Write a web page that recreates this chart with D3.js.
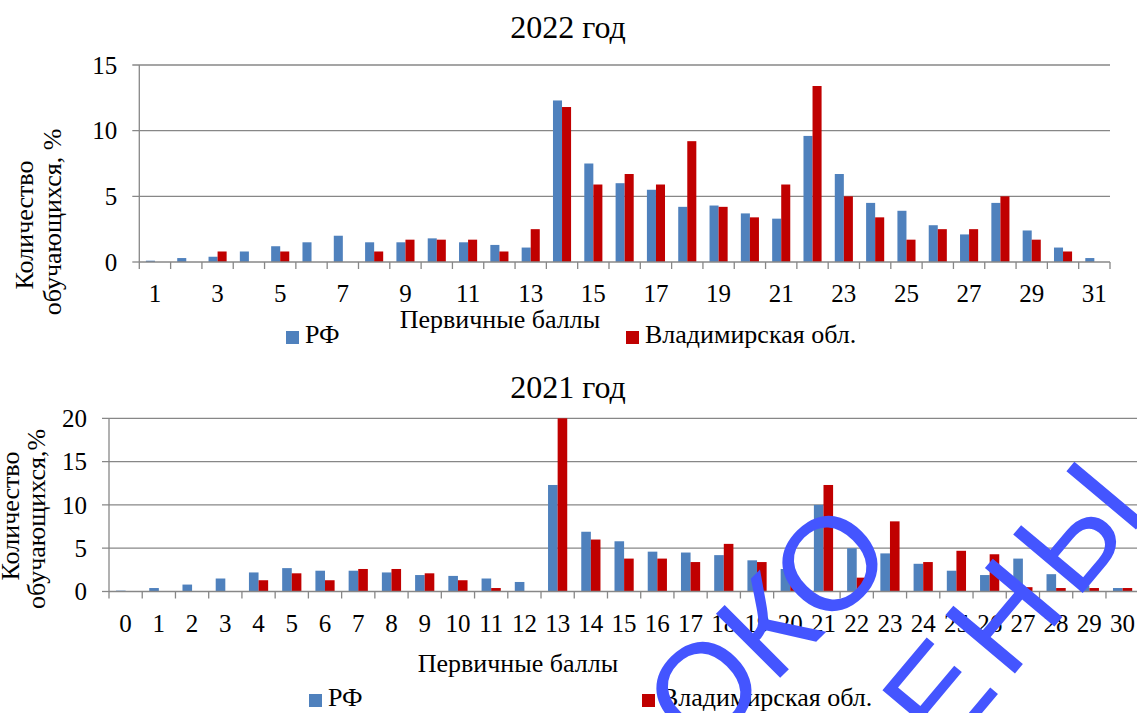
<!DOCTYPE html>
<html><head><meta charset="utf-8">
<script src="https://cdn.jsdelivr.net/npm/d3@7/dist/d3.min.js"></script>
<style>
body{margin:0;background:#fff}
svg{display:block}
</style></head>
<body><svg id="chart" width="1137" height="713"></svg>
<script>
// ---- data ----
const seriesNames = ["РФ", "Владимирская обл."];
const seriesColors = ["#4f81bd", "#c00000"];
const axisTitleX = "Первичные баллы";

const scores2022 = [1,2,3,4,5,6,7,8,9,10,11,12,13,14,15,16,17,18,19,20,21,22,23,24,25,26,27,28,29,30,31];
const rf2022 =   [0.1,0.3,0.4,0.8,1.2,1.5,2.0,1.5,1.5,1.8,1.5,1.3,1.1,12.3,7.5,6.0,5.5,4.2,4.3,3.7,3.3,9.6,6.7,4.5,3.9,2.8,2.1,4.5,2.4,1.1,0.3];
const vlad2022 = [0,0,0.8,0,0.8,0,0,0.8,1.7,1.7,1.7,0.8,2.5,11.8,5.9,6.7,5.9,9.2,4.2,3.4,5.9,13.4,5.0,3.4,1.7,2.5,2.5,5.0,1.7,0.8,0];
const yTicks2022 = [0,5,10,15];

const scores2021 = [0,1,2,3,4,5,6,7,8,9,10,11,12,13,14,15,16,17,18,19,20,21,22,23,24,25,26,27,28,29,30];
const rf2021 =   [0.1,0.4,0.8,1.5,2.2,2.7,2.4,2.4,2.2,1.9,1.8,1.5,1.1,12.3,6.9,5.8,4.6,4.5,4.2,3.6,2.6,10.0,5.0,4.4,3.2,2.4,1.9,3.8,2.0,0.7,0.4];
const vlad2021 = [0,0,0,0,1.3,2.1,1.3,2.6,2.6,2.1,1.3,0.4,0,20.0,6.0,3.8,3.8,3.4,5.5,3.4,1.3,12.3,1.6,8.1,3.4,4.7,4.3,0.5,0.4,0.4,0.4];
const yTicks2021 = [0,5,10,15,20];

const watermarkLines = ["ОКО", "ЧЕНЫ"];

// ---- drawing ----
const svg = d3.select("#chart");
const GRID = "#878787";

// pick an installed Times-like face
function pickFont(cands) {
  const probe = svg.append("text").style("font-size", "40px").text("Первичные баллы 2022 WiiMm");
  probe.style("font-family", "monospace");
  const mono = probe.node().getComputedTextLength();
  let found = null;
  for (const c of cands) {
    probe.style("font-family", `'${c}', monospace`);
    const w = probe.node().getComputedTextLength();
    if (Math.abs(w - mono) > 0.5) { found = c; break; }
  }
  probe.remove();
  return found ? `'${found}', serif` : "serif";
}
const SERIF = pickFont(["Liberation Serif", "Times New Roman", "Tinos"]);

function txt(sel, size) {
  return sel.style("font-family", SERIF).style("font-size", size + "px").style("fill", "#000");
}

function drawChart(o) {
  const g = svg.append("g");
  const x = d3.scaleBand().domain(o.cats).range([o.x0, o.x1]).paddingInner(0).paddingOuter(0);
  const inner = d3.scaleBand().domain([0,1]).range([0, x.bandwidth()]).paddingInner(0).paddingOuter(0.73);
  const y = d3.scaleLinear().domain([0, d3.max(o.yTicks)]).range([o.yZero, o.yTop]);

  // title
  txt(g.append("text").attr("x", o.titleX).attr("y", o.titleY).attr("text-anchor","middle"), 32).text(o.title);

  // gridlines + y ticks
  g.selectAll(".grid").data(o.yTicks.filter(t => t > 0)).join("line")
    .attr("x1", o.x0 - 7).attr("x2", o.x1).attr("y1", d => y(d)).attr("y2", d => y(d))
    .attr("stroke", GRID).attr("stroke-width", 1.3);
  g.append("line").attr("x1", o.x0 - 7).attr("x2", o.x0).attr("y1", y(0)).attr("y2", y(0))
    .attr("stroke", GRID).attr("stroke-width", 1.3);
  txt(g.selectAll(".ylab").data(o.yTicks).join("text")
    .attr("x", o.x0 - 22).attr("y", d => y(d)).attr("dy","0.35em").attr("text-anchor","end"), 25)
    .text(d => d);

  // bars
  const series = [o.rf, o.vlad];
  series.forEach((vals, si) => {
    g.selectAll(".b"+si).data(vals.map((v,i)=>({c:o.cats[i], v}))).join("rect")
      .attr("x", d => x(d.c) + inner(si)).attr("width", inner.bandwidth())
      .attr("y", d => y(d.v)).attr("height", d => y(0) - y(d.v))
      .attr("fill", seriesColors[si]);
  });

  // axes lines
  g.append("line").attr("x1", o.x0).attr("x2", o.x0).attr("y1", o.yTop).attr("y2", y(0))
    .attr("stroke", GRID).attr("stroke-width", 1.3);
  g.append("line").attr("x1", o.x0).attr("x2", o.x1).attr("y1", y(0)).attr("y2", y(0))
    .attr("stroke", GRID).attr("stroke-width", 1.3);
  const bounds = o.cats.map(c => x(c)).concat([o.x1]);
  g.selectAll(".xt").data(bounds).join("line")
    .attr("x1", d => d).attr("x2", d => d).attr("y1", y(0)).attr("y2", y(0) + 7)
    .attr("stroke", GRID).attr("stroke-width", 1.3);

  // x labels
  const ax = d3.axisBottom(x).tickSize(0).tickPadding(0)
    .tickFormat((d,i) => (i % o.labelEvery === 0) ? d : "");
  const axg = g.append("g").attr("transform", `translate(0,${o.xLabY})`).call(ax);
  axg.attr("font-family", null).attr("font-size", null);
  axg.select(".domain").remove();
  txt(axg.selectAll("text").attr("y", 0).attr("dy", 0), 25);

  // axis titles
  txt(g.append("text").attr("x", o.xTitleX).attr("y", o.xTitleY).attr("text-anchor","middle"), 26).text(axisTitleX);
  o.yTitle.forEach((t, i) => {
    txt(g.append("text").attr("transform", `translate(${o.yTitleX[i]},${o.yTitleY[i]}) rotate(-90)`)
      .attr("text-anchor","middle"), 26).text(t);
  });

  // legend
  seriesNames.forEach((n, i) => {
    g.append("rect").attr("x", o.legX[i]).attr("y", o.legY - 12).attr("width", 13).attr("height", 13)
      .attr("fill", seriesColors[i]);
    txt(g.append("text").attr("x", o.legX[i] + 19).attr("y", o.legY), 26).text(n);
  });
}

drawChart({
  title: "2022 год", titleX: 568, titleY: 38,
  cats: scores2022, rf: rf2022, vlad: vlad2022, yTicks: yTicks2022,
  x0: 139.3, x1: 1110, yZero: 262, yTop: 65, labelEvery: 2, xLabY: 302,
  xTitleX: 500, xTitleY: 328,
  yTitle: ["Количество", "обучающихся, %"], yTitleX: [33, 61], yTitleY: [225, 222],
  legX: [286, 626], legY: 343
});

drawChart({
  title: "2021 год", titleX: 568, titleY: 398,
  cats: scores2021, rf: rf2021, vlad: vlad2021, yTicks: yTicks2021,
  x0: 109, x1: 1139.2, yZero: 591.5, yTop: 418.3, labelEvery: 1, xLabY: 632,
  xTitleX: 518, xTitleY: 672,
  yTitle: ["Количество", "обучающихся,%"], yTitleX: [19, 45], yTitleY: [516, 519],
  legX: [309, 642], legY: 706
});

// watermark overlay (stamp across the lower chart)
const wm = svg.append("g");
const wmStyle = [
  {x: 700, y: 758, rot: -45, ls: 0},
  {x: 882, y: 832, rot: -50, ls: 10}
];
watermarkLines.forEach((t, i) => {
  const p = wmStyle[i];
  wm.append("text").attr("transform", `translate(${p.x},${p.y}) rotate(${p.rot})`)
    .style("font-family","'Liberation Sans',Arial,sans-serif").style("font-size","132px")
    .style("letter-spacing", p.ls + "px")
    .style("fill","#4455ff").text(t);
});
</script>
</body></html>
